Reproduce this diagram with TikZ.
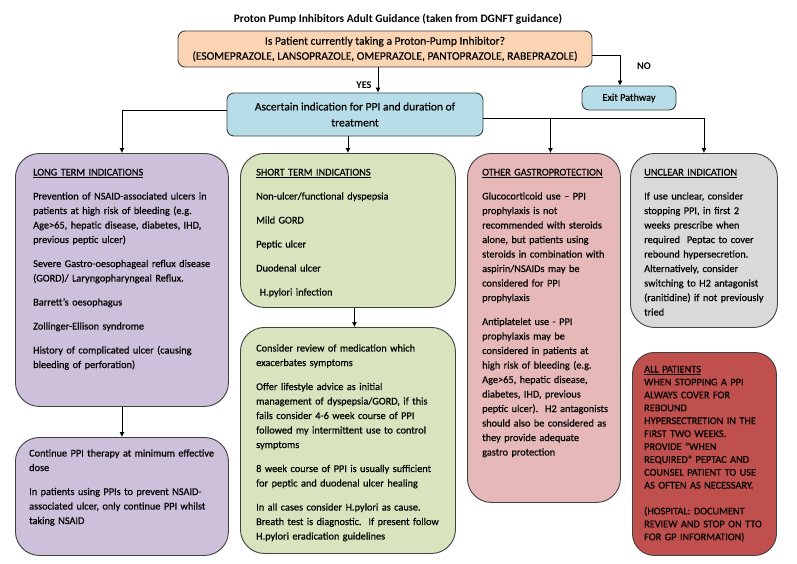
\documentclass[tikz,border=0pt]{standalone}
\usepackage{fontspec}
\setmainfont{Carlito}[UprightFeatures={FakeBold=0.4}]
\usetikzlibrary{arrows.meta}
\usetikzlibrary{positioning}
\definecolor{mpeach}{HTML}{FBD4B4}
\definecolor{mblue}{HTML}{B7DDE8}
\definecolor{mpurple}{HTML}{CCC0DA}
\definecolor{mgreen}{HTML}{D7E4BD}
\definecolor{mpink}{HTML}{E6B9B8}
\definecolor{mgrey}{HTML}{D9D9D9}
\definecolor{mred}{HTML}{C0504D}
\definecolor{mline}{HTML}{404040}
\newcommand\boxfont{\fontsize{10.3}{14.5}\selectfont}
\newcommand\topfont{\fontsize{11.5}{15}\selectfont}
\newcommand\capsfont{\fontsize{10.3}{12.9}\selectfont}
\tikzset{panel/.style = {draw=mline, line width=0.9pt, rounded corners=24pt,
                         anchor=north west, inner sep=0pt},
         smallpanel/.style = {draw=mline, line width=0.9pt, rounded corners=7pt,
                              align=center, font=\topfont, inner sep=0pt},
         txt/.style = {anchor=base west, align=left, text width=230pt,
                       font=\boxfont, inner sep=0pt},
         arr/.style = {line width=0.8pt, -{Latex[length=5pt, width=5pt]}}}

\begin{document}
\begin{tikzpicture}[x=1pt, y=-1pt]
    \fill [white] (0, 0) rectangle (797, 563);
    \useasboundingbox (0, 0) rectangle (797, 563);

    \node [font=\fontsize{11.4}{13}\selectfont\bfseries] (title) at (398, 19) {Proton Pump Inhibitors Adult Guidance (taken from DGNFT guidance)};

    \node [smallpanel, fill=mpeach, minimum width=414pt, minimum height=36pt] (q) at (385, 49)
      {Is Patient currently taking a Proton-Pump Inhibitor?\\
       (ESOMEPRAZOLE, LANSOPRAZOLE, OMEPRAZOLE, PANTOPRAZOLE, RABEPRAZOLE)};
    \node [smallpanel, fill=mblue, minimum width=256pt, minimum height=43pt] (ask) at (355, 114.5)
      {Ascertain indication for PPI and duration of\\[1pt] treatment};
    \node [smallpanel, fill=mblue, minimum width=94pt, minimum height=24pt, font=\boxfont] (exit) at (629, 98) {Exit Pathway};

    \node [font=\boxfont\bfseries] (yes) at (364, 85) {YES};
    \node [font=\boxfont\bfseries] (no) at (644, 66) {NO};

    \node [panel, fill=mpurple, minimum width=213pt, minimum height=253pt] (lt) at (15, 153) {};
    \node [panel, fill=mgreen, minimum width=215pt, minimum height=154pt] (st) at (240, 153) {};
    \node [panel, fill=mpink, minimum width=153pt, minimum height=349pt] (og) at (467, 153) {};
    \node [panel, fill=mgrey, minimum width=147pt, minimum height=174pt] (ui) at (630, 153) {};
    \node [panel, fill=mpurple, minimum width=213pt, minimum height=118pt] (lt2) at (15, 437) {};
    \node [panel, fill=mgreen, minimum width=215pt, minimum height=226pt] (st2) at (240, 327) {};
    \node [panel, fill=mred, minimum width=144pt, minimum height=203pt, rounded corners=22pt] (ap) at (632, 352) {};

    \node [txt] (ltt) at (33, 175.5)
      {\underline{LONG TERM INDICATIONS}\\[9.5pt]
       Prevention of NSAID-associated ulcers in\\
       patients at high risk of bleeding (e.g.\\
       Age>65, hepatic disease, diabetes, IHD,\\
       previous peptic ulcer)\\[9.5pt]
       Severe Gastro-oesophageal reflux disease\\
       (GORD)/ Laryngopharyngeal Reflux.\\[9.5pt]
       Barrett’s oesophagus\\[9.5pt]
       Zollinger-Ellison syndrome\\[9.5pt]
       History of complicated ulcer (causing\\
       bleeding of perforation)};
    \node [txt] (stt) at (256, 175.5)
      {\underline{SHORT TERM INDICATIONS}\\[9.5pt]
       Non-ulcer/functional dyspepsia\\[9.5pt]
       Mild GORD\\[9.5pt]
       Peptic ulcer\\[9.5pt]
       Duodenal ulcer\\[9.5pt]
       \ H.pylori infection};
    \node [txt] (ogt) at (482, 175.5)
      {\underline{OTHER GASTROPROTECTION}\\[9.5pt]
       Glucocorticoid use – PPI\\
       prophylaxis is not\\
       recommended with steroids\\
       alone, but patients using\\
       steroids in combination with\\
       aspirin/NSAIDs may be\\
       considered for PPI\\
       prophylaxis\\[9.5pt]
       Antiplatelet use - PPI\\
       prophylaxis may be\\
       considered in patients at\\
       high risk of bleeding (e.g.\\
       Age>65, hepatic disease,\\
       diabetes, IHD, previous\\
       peptic ulcer).\ \ H2 antagonists\\
       should also be considered as\\
       they provide adequate\\
       gastro protection};
    \node [txt] (uit) at (644, 175.5)
      {\underline{UNCLEAR INDICATION}\\[9.5pt]
       If use unclear, consider\\
       stopping PPI, in first 2\\
       weeks prescribe when\\
       required\ \ Peptac to cover\\
       rebound hypersecretion.\\
       Alternatively, consider\\
       switching to H2 antagonist\\
       (ranitidine) if not previously\\
       tried};
    \node [txt, font=\capsfont] (apt) at (644, 372.5)
      {\underline{ALL PATIENTS}\\
       WHEN STOPPING A PPI\\
       ALWAYS COVER FOR\\
       REBOUND\\
       HYPERSECTRETION IN THE\\
       FIRST TWO WEEKS.\\
       PROVIDE "WHEN\\
       REQUIRED" PEPTAC AND\\
       COUNSEL PATIENT TO USE\\
       AS OFTEN AS NECESSARY.\\[12.9pt]
       (HOSPITAL: DOCUMENT\\
       REVIEW AND STOP ON TTO\\
       FOR GP INFORMATION)};
    \node [txt] (lt2t) at (29, 456.5)
      {Continue PPI therapy at minimum effective\\
       dose\\[9.5pt]
       In patients using PPIs to prevent NSAID-\\
       associated ulcer, only continue PPI whilst\\
       taking NSAID};
    \node [txt] (st2t) at (256, 351.5)
      {Consider review of medication which\\
       exacerbates symptoms\\[9.5pt]
       Offer lifestyle advice as initial\\
       management of dyspepsia/GORD, if this\\
       fails consider 4-6 week course of PPI\\
       followed my intermittent use to control\\
       symptoms\\[9.5pt]
       8 week course of PPI is usually sufficient\\
       for peptic and duodenal ulcer healing\\[9.5pt]
       In all cases consider H.pylori as cause.\\
       Breath test is diagnostic.\ \ If present follow\\
       H.pylori eradication guidelines};

    \coordinate (qs) at ([xshift=-7pt]q.south);
    \coordinate (qe) at ([yshift=-6pt]q.east);
    \coordinate (exitin) at ([xshift=-9pt]exit.north);
    \coordinate (askl) at ([yshift=4.5pt]ask.west);
    \coordinate (askr) at ([yshift=-3.5pt]ask.east);
    \coordinate (ogin) at ([xshift=6.5pt]og.north);
    \coordinate (st2in) at ([xshift=6.5pt]st2.north);

    \draw [arr] (qs) -- (qs |- ask.north);
    \draw [arr] (qe) -| (exitin);
    \draw [arr] (askl) -| (lt.north);
    \draw [arr] (ask.south -| st.north) -- (st.north);
    \draw [arr] (askr) -| (ui.north);
    \draw [arr] (askr -| ogin) -- (ogin);
    \draw [arr] (lt.south) -- (lt2.north);
    \draw [arr] (st.south -| st2in) -- (st2in);
\end{tikzpicture}
\end{document}
